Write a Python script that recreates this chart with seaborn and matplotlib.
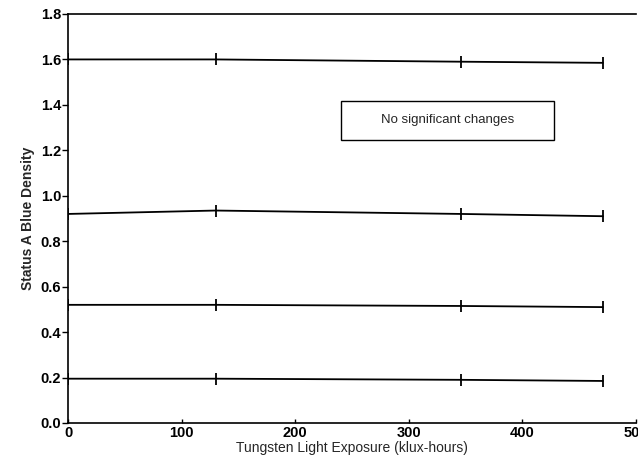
import matplotlib
matplotlib.use("Agg")
import matplotlib.pyplot as plt
import seaborn as sns
import pandas as pd
from matplotlib.patches import Rectangle

# Exposure times (klux-hours) and measured blue densities for each step
exposure = [0, 130, 346, 471]
step_high = [1.60, 1.60, 1.59, 1.585]
step_upper_mid = [0.92, 0.935, 0.92, 0.91]
step_lower_mid = [0.52, 0.52, 0.515, 0.51]
step_low = [0.195, 0.195, 0.19, 0.185]

x_ticks = [0, 100, 200, 300, 400, 500]
y_ticks = [0.0, 0.2, 0.4, 0.6, 0.8, 1.0, 1.2, 1.4, 1.6, 1.8]

steps = {"D-max": step_high, "Upper mid": step_upper_mid,
         "Lower mid": step_lower_mid, "Low": step_low}
df = pd.DataFrame(
    [{"exposure": x, "density": v, "step": name}
     for name, vals in steps.items() for x, v in zip(exposure, vals)]
)

sns.set_style("ticks")
plt.rcParams["font.family"] = ["Liberation Sans", "DejaVu Sans"]

fig = plt.figure(figsize=(6.38, 4.74), dpi=100)
ax = fig.add_axes([0.1066, 0.1076, 0.890, 0.8629])

sns.lineplot(data=df, x="exposure", y="density", hue="step",
             palette=["black"] * 4, marker="|", markersize=8,
             markeredgewidth=1.3, markeredgecolor="black",
             linewidth=1.3, legend=False, ax=ax)

ax.set_xlim(0, 500)
ax.set_ylim(0, 1.8)
ax.set_xticks(x_ticks)
ax.set_xticklabels([str(t) for t in x_ticks], fontweight="bold", fontsize=10.5)
ax.set_yticks(y_ticks)
ax.set_yticklabels([f"{t:.1f}" for t in y_ticks], fontweight="bold", fontsize=10.5)
ax.tick_params(axis="y", direction="out", length=4, width=1, pad=1, colors="black")
ax.tick_params(axis="x", direction="in", length=3, width=1, pad=2, colors="black")

ax.set_xlabel("Tungsten Light Exposure (klux-hours)", fontsize=10, labelpad=1)
ax.set_ylabel("Status A Blue Density", fontsize=10, fontweight="bold", labelpad=4)

for side in ["left", "bottom", "top"]:
    ax.spines[side].set_visible(True)
    ax.spines[side].set_color("black")
    ax.spines[side].set_linewidth(1.2)
ax.spines["right"].set_visible(False)

# Annotation box
ax.add_patch(Rectangle((0.4806, 0.6920), 0.3754, 0.0955, transform=ax.transAxes,
                       fill=False, edgecolor="black", linewidth=1.0))
ax.text(0.668, 0.7398, "No significant changes", transform=ax.transAxes,
        ha="center", va="center", fontsize=9.5)

fig.savefig("out.png", dpi=100)
